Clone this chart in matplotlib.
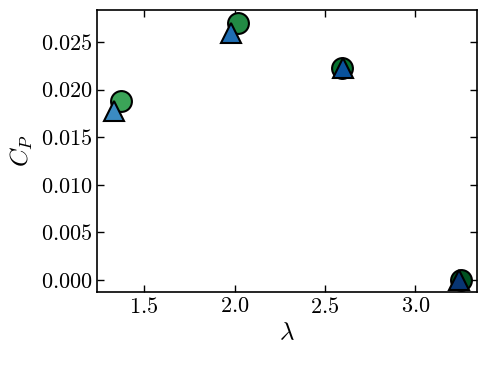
import matplotlib
matplotlib.use('Agg')
import matplotlib.pyplot as plt
import numpy as np

# tip speed ratio and power coefficient, two series
lam_circ = [1.373, 2.017, 2.595, 3.255]
cp_circ = [0.0188, 0.0270, 0.0223, 0.0000]
lam_tri = [1.334, 1.980, 2.598, 3.240]
cp_tri = [0.0177, 0.0259, 0.0223, 0.0000]

plt.rcParams['font.family'] = 'serif'
plt.rcParams['font.serif'] = ['cmr10']
plt.rcParams['mathtext.fontset'] = 'cm'
plt.rcParams['axes.formatter.use_mathtext'] = True

greens = plt.cm.Greens(np.linspace(0.65, 0.95, len(lam_circ)))
blues = plt.cm.Blues(np.linspace(0.65, 0.98, len(lam_tri)))

fig = plt.figure(figsize=(4.88, 3.66), dpi=100)
ax = fig.add_axes([0.199, 0.202, 0.778, 0.771])

for x, y, c in zip(lam_circ, cp_circ, greens):
    ax.plot(x, y, 'o', ms=15, mfc=c, mec='black', mew=1.5)
for x, y, c in zip(lam_tri, cp_tri, blues):
    ax.plot(x, y, '^', ms=15, mfc=c, mec='black', mew=1.5)

ax.set_xlim(1.24, 3.34)
ax.set_ylim(-0.00126, 0.02836)
ax.set_xticks([1.5, 2.0, 2.5, 3.0])
ax.set_yticks([0.0, 0.005, 0.010, 0.015, 0.020, 0.025])
ax.set_xticklabels(['$1.5$', '$2.0$', '$2.5$', '$3.0$'])
ax.set_yticklabels(['$0.000$', '$0.005$', '$0.010$', '$0.015$', '$0.020$', '$0.025$'])
ax.tick_params(direction='in', top=True, right=True, labelsize=16, length=5, width=1)
for s in ax.spines.values():
    s.set_linewidth(1.2)
ax.set_xlabel(r'$\lambda$', fontsize=18)
ax.set_ylabel(r'$C_P$', fontsize=18)

fig.savefig('out.png', dpi=100)
